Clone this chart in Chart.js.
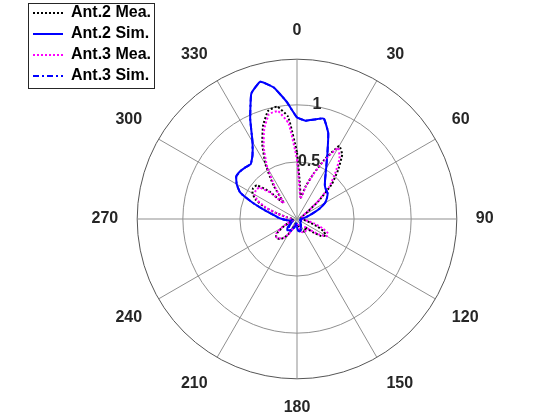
<!DOCTYPE html>
<html lang="en">
<head>
<meta charset="UTF-8">
<title>Polar pattern</title>
<script src="https://cdn.jsdelivr.net/npm/chart.js"></script>
<style>
  html, body { margin: 0; padding: 0; background: #ffffff; }
  #wrap { width: 560px; height: 420px; }
</style>
</head>
<body>
<div id="wrap"><canvas id="polar" width="560" height="420"></canvas></div>
<script>
// angle categories in degrees (0 at top, clockwise)
const angles = [
  0, 5, 10, 15, 20, 25, 30, 35, 40, 45, 50, 55,
  60, 65, 70, 75, 80, 85, 90, 95, 100, 105, 110, 115,
  120, 125, 130, 135, 140, 145, 150, 155, 160, 165, 170, 175,
  180, 185, 190, 195, 200, 205, 210, 215, 220, 225, 230, 235,
  240, 245, 250, 255, 260, 265, 270, 275, 280, 285, 290, 295,
  300, 305, 310, 315, 320, 325, 330, 335, 340, 345, 350, 355
];
const angleTickLabels = ['0', '30', '60', '90', '120', '150', '180', '210', '240', '270', '300', '330'];
const radiusTickLabels = [0, 0.5, 1];
const seriesNames = ['Ant.2 Mea.', 'Ant.2 Sim.', 'Ant.3 Mea.', 'Ant.3 Sim.'];

const ant2Mea = [
  0.58, 0.30, 0.19, 0.30, 0.42, 0.58, 0.74, 0.69, 0.56, 0.43, 0.25, 0.12,
  0.07, 0.05, 0.04, 0.04, 0.05, 0.04, 0.03, 0.05, 0.08, 0.12, 0.19, 0.26,
  0.29, 0.26, 0.18, 0.10, 0.11, 0.13, 0.13, 0.12, 0.11, 0.08, 0.05, 0.04,
  0.05, 0.06, 0.05, 0.04, 0.06, 0.10, 0.16, 0.20, 0.23, 0.24, 0.24, 0.21,
  0.15, 0.09, 0.05, 0.04, 0.04, 0.03, 0.04, 0.05, 0.09, 0.17, 0.30, 0.40,
  0.45, 0.47, 0.46, 0.34, 0.18, 0.36, 0.55, 0.72, 0.87, 0.98, 1.00, 0.90
];
const ant2Sim = [
  0.89, 0.865, 0.885, 0.91, 0.80, 0.63, 0.51, 0.43, 0.38, 0.36, 0.35, 0.32,
  0.285, 0.22, 0.15, 0.10, 0.07, 0.05, 0.04, 0.03, 0.03, 0.03, 0.03, 0.04,
  0.04, 0.04, 0.04, 0.04, 0.05, 0.06, 0.07, 0.08, 0.09, 0.10, 0.10, 0.10,
  0.07, 0.04, 0.04, 0.06, 0.08, 0.10, 0.11, 0.12, 0.13, 0.12, 0.10, 0.07,
  0.05, 0.04, 0.04, 0.05, 0.07, 0.10, 0.13, 0.17, 0.21, 0.29, 0.41, 0.55,
  0.61, 0.65, 0.65, 0.64, 0.63, 0.68, 0.78, 0.97, 1.17, 1.245, 1.17, 1.03
];
const ant3Mea = [
  0.52, 0.26, 0.18, 0.29, 0.42, 0.57, 0.72, 0.65, 0.52, 0.40, 0.24, 0.11,
  0.06, 0.05, 0.05, 0.04, 0.04, 0.05, 0.05, 0.06, 0.10, 0.16, 0.24, 0.30,
  0.30, 0.24, 0.15, 0.10, 0.12, 0.13, 0.13, 0.13, 0.12, 0.09, 0.06, 0.04,
  0.05, 0.06, 0.06, 0.05, 0.07, 0.11, 0.16, 0.20, 0.22, 0.24, 0.24, 0.22,
  0.16, 0.10, 0.05, 0.04, 0.04, 0.04, 0.05, 0.06, 0.10, 0.18, 0.29, 0.38,
  0.43, 0.44, 0.43, 0.32, 0.18, 0.33, 0.52, 0.69, 0.84, 0.95, 0.96, 0.84
];
const ant3Sim = [
  0.89, 0.865, 0.885, 0.91, 0.80, 0.63, 0.51, 0.43, 0.38, 0.36, 0.35, 0.32,
  0.285, 0.22, 0.15, 0.10, 0.07, 0.05, 0.04, 0.03, 0.03, 0.03, 0.03, 0.04,
  0.04, 0.04, 0.04, 0.04, 0.05, 0.06, 0.06, 0.08, 0.10, 0.11, 0.11, 0.10,
  0.06, 0.03, 0.04, 0.07, 0.09, 0.11, 0.12, 0.12, 0.11, 0.10, 0.08, 0.06,
  0.05, 0.04, 0.04, 0.05, 0.07, 0.10, 0.13, 0.17, 0.21, 0.29, 0.41, 0.55,
  0.61, 0.65, 0.65, 0.64, 0.63, 0.68, 0.78, 0.97, 1.17, 1.245, 1.17, 1.03
];

const FONT = "'Liberation Sans', Arial, Helvetica, sans-serif";
const TEXT = '#262626';
const LEGEND_LEFT = 28;
const LEGEND_PAD = 5;

// legend sits in the top-left corner with a frame, like the matlab one
const legendFrame = {
  id: 'legendFrame',
  afterLayout(chart) {
    const lg = chart.legend;
    const dx = LEGEND_LEFT - lg.left;
    lg.left += dx;
    lg.right += dx;
  },
  afterDraw(chart) {
    const boxes = chart.legend.legendHitBoxes;
    if (!boxes || !boxes.length) return;
    let w = 0, t = Infinity, b = -Infinity;
    boxes.forEach(h => {
      w = Math.max(w, h.width);
      t = Math.min(t, h.top);
      b = Math.max(b, h.top + h.height);
    });
    const ctx = chart.ctx;
    ctx.save();
    ctx.strokeStyle = '#262626';
    ctx.lineWidth = 1;
    ctx.strokeRect(LEGEND_LEFT + 0.5, Math.round(t - 2) + 0.5, Math.round(w + LEGEND_PAD + 3), Math.round(b - t + 6));
    ctx.restore();
  }
};

// legend samples keep the dash of each line
function legendItems(chart) {
  const items = Chart.defaults.plugins.legend.labels.generateLabels(chart);
  items.forEach(item => {
    const ds = chart.data.datasets[item.datasetIndex];
    item.strokeStyle = ds.borderColor;
    item.lineWidth = ds.borderWidth;
    item.lineDash = ds.borderDash || [];
  });
  return items;
}

// r labels sit a little right of the 0 deg spoke
function radiusLabel(v) {
  if (!radiusTickLabels.includes(v)) return '';
  if (v === 1) return '\u2003\u2003\u2002' + v;
  if (v === 0.5) return '\u2003\u2002' + v;
  return String(v);
}

const ctx = document.getElementById('polar').getContext('2d');
const chart = new Chart(ctx, {
  type: 'radar',
  data: {
    labels: angles.map(String),
    datasets: [
      {
        label: seriesNames[0], data: ant2Mea, order: 4,
        borderColor: '#000000', borderWidth: 2, borderDash: [2, 2],
        pointRadius: 0, fill: false, backgroundColor: 'transparent'
      },
      {
        label: seriesNames[1], data: ant2Sim, order: 3,
        borderColor: '#0000ff', borderWidth: 2,
        pointRadius: 0, fill: false, backgroundColor: 'transparent'
      },
      {
        label: seriesNames[2], data: ant3Mea, order: 2,
        borderColor: '#ff00ff', borderWidth: 2, borderDash: [2, 2],
        pointRadius: 0, fill: false, backgroundColor: 'transparent'
      },
      {
        label: seriesNames[3], data: ant3Sim, order: 1,
        borderColor: '#0000ff', borderWidth: 2, borderDash: [6, 3, 2, 3],
        pointRadius: 0, fill: false, backgroundColor: 'transparent'
      }
    ]
  },
  options: {
    responsive: false,
    animation: false,
    layout: { padding: { left: 34, right: 0, top: 21, bottom: 3 } },
    elements: { line: { tension: 0.12 } },
    plugins: {
      tooltip: { enabled: false },
      legend: {
        position: 'chartArea',
        align: 'start',
        labels: {
          usePointStyle: true,
          pointStyle: 'line',
          pointStyleWidth: 30,
          padding: LEGEND_PAD,
          color: '#000000',
          font: { family: FONT, size: 16, weight: 'bold' },
          generateLabels: legendItems,
          sort: (a, b) => a.datasetIndex - b.datasetIndex
        }
      }
    },
    scales: {
      r: {
        min: 0,
        max: 1.4,
        ticks: {
          stepSize: 0.5,
          showLabelBackdrop: false,
          color: TEXT,
          font: { family: FONT, size: 16, weight: 'bold' },
          callback: radiusLabel
        },
        grid: {
          circular: true,
          color: c => c.index === 3 ? '#555555' : '#8f8f8f',
          lineWidth: 1
        },
        angleLines: {
          color: '#8f8f8f',
          lineWidth: c => c.index % 6 === 0 ? 1 : 0
        },
        pointLabels: {
          padding: 9,
          color: TEXT,
          font: { family: FONT, size: 16, weight: 'bold' },
          callback: (label) => angleTickLabels.includes(label) ? label : ''
        }
      }
    }
  },
  plugins: [legendFrame]
});
</script>
</body>
</html>
